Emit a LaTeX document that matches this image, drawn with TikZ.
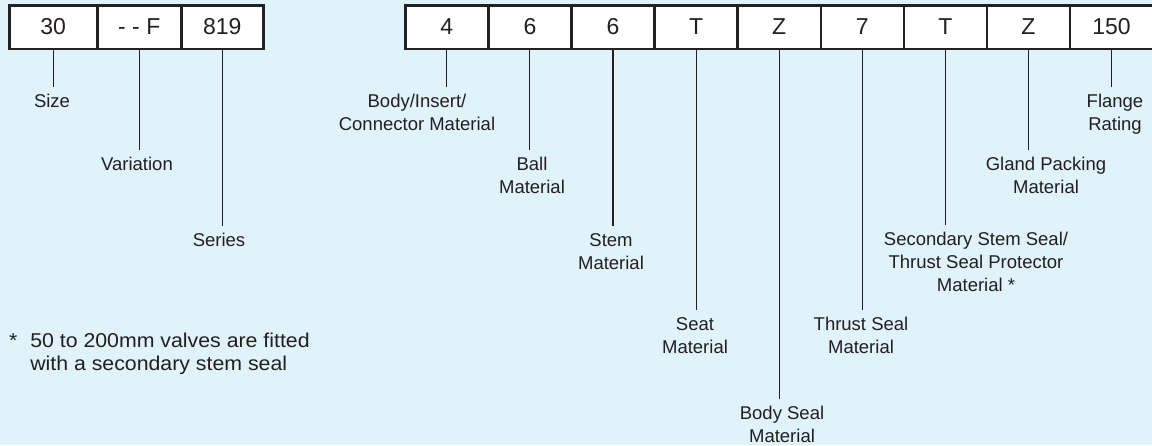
\documentclass[tikz,border=0pt]{standalone}
\usepackage{fontspec}
\setmainfont{Liberation Sans}
\definecolor{bgc}{RGB}{224,242,250}
\definecolor{ink}{RGB}{35,31,32}
\definecolor{edge}{RGB}{34,34,34}
\begin{document}
\begin{tikzpicture}[x=1pt,y=-1pt,
  codebox/.style={draw=edge,line width=2.5pt,fill=white,minimum height=43.5pt,inner sep=0pt,
    font=\fontsize{23}{27}\selectfont,text=ink,anchor=north west},
  lab/.style={anchor=north,inner sep=0pt,align=center,text=ink,font=\fontsize{18.5}{23}\selectfont},
  conn/.style={draw=ink,line width=1.15pt,shorten >=7pt}]
\fill[bgc] (0,0) rectangle (1152,445);
\useasboundingbox (0,0) rectangle (1152,445);
% left code
\node[codebox,minimum width=88pt] (a1) at (8,4) {30};
\node[codebox,minimum width=84pt] (a2) at (96,4) {- - F};
\node[codebox,minimum width=82pt] (a3) at (180,4) {819};
% right code
\foreach \i/\t in {1/4,2/6,3/6,4/T,5/Z,6/7,7/T,8/Z,9/150}{
  \node[codebox,minimum width=83.1pt] (b\i) at ({404+83.1*(\i-1)},4) {\t};
}
% labels left
\node[lab] (la1) at (52,94) {Size};
\node[lab] (la2) at (137,157) {Variation};
\node[lab] (la3) at (219,233) {Series};
% labels right
\node[lab] (lb1) at (417,94) {Body/Insert/\\Connector Material};
\node[lab] (lb2) at (532,157) {Ball\\Material};
\node[lab] (lb3) at (611,233) {Stem\\Material};
\node[lab] (lb4) at (695,317) {Seat\\Material};
\node[lab] (lb5) at (782,406) {Body Seal\\Material};
\node[lab] (lb6) at (861,317) {Thrust Seal\\Material};
\node[lab] (lb7) at (976,232) {Secondary Stem Seal/\\Thrust Seal Protector\\Material *};
\node[lab] (lb8) at (1046,157) {Gland Packing\\Material};
\node[lab] (lb9) at (1115,94) {Flange\\Rating};
% connectors
\foreach \n in {1,2,3}{
  \draw[conn] (a\n.south) -- (a\n.south |- la\n.north);
}
\foreach \n in {1,...,9}{
  \draw[conn] (b\n.south) -- (b\n.south |- lb\n.north);
}
% footnote
\node[anchor=north west,inner sep=0pt,text=ink,font=\fontsize{20}{23}\selectfont] (fn) at (9,331)
  {\scalebox{1.065}[1]{\begin{tabular}{@{}l@{\hspace{12pt}}l@{}}*&50 to 200mm valves are fitted\\&with a secondary stem seal\end{tabular}}};
\end{tikzpicture}
\end{document}
